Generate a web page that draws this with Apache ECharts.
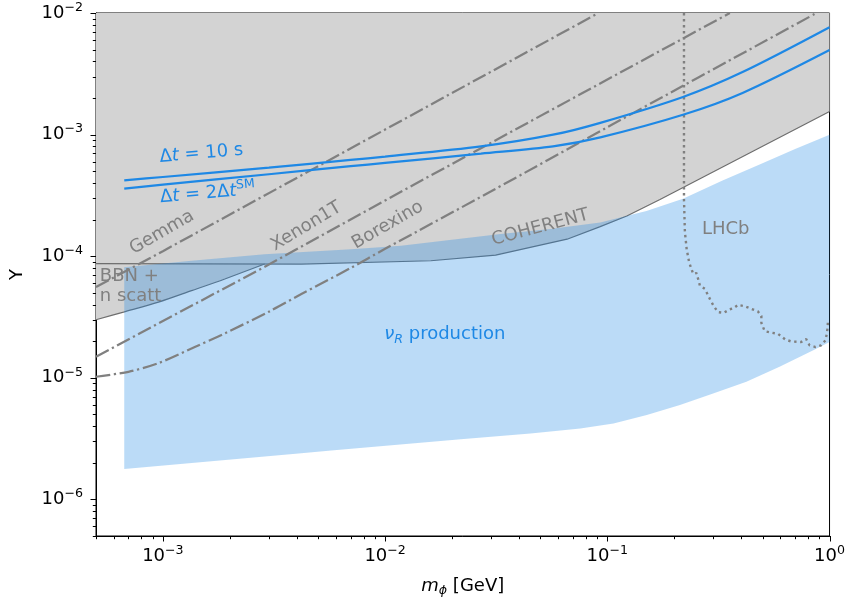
<!DOCTYPE html>
<html><head><meta charset="utf-8">
<script src="https://cdn.jsdelivr.net/npm/echarts@6/dist/echarts.min.js"></script>
<style>html,body{margin:0;padding:0;background:#fff}#c{width:848px;height:602px}</style>
</head><body><div id="c"></div>
<script>
// ---------------- data ----------------
const xRange = [5e-4, 1];
const yRange = [5e-7, 1e-2];
const xMajorTicks = [1e-3, 1e-2, 1e-1, 1];
const yMajorTicks = [1e-6, 1e-5, 1e-4, 1e-3, 1e-2];
const xMinorDecades = [1e-4, 1e-3, 1e-2, 1e-1];
const yMinorDecades = [1e-7, 1e-6, 1e-5, 1e-4, 1e-3];
const minorMultipliers = [2, 3, 4, 5, 6, 7, 8, 9];

// Δt = 10 s
const dt10 = [[6.7e-4,4.2e-4],[1e-3,4.48e-4],[3e-3,5.35e-4],[7e-3,6.2e-4],[1e-2,6.59e-4],[2.7e-2,8.0e-4],[5.7e-2,9.98e-4],[0.093,1.25e-3],[0.219,2.04e-3],[0.406,3.27e-3],[1,7.64e-3]];
// Δt = 2Δt^SM
const dt2sm = [[6.7e-4,3.6e-4],[1e-3,3.87e-4],[3e-3,4.72e-4],[7e-3,5.5e-4],[1e-2,5.85e-4],[2.7e-2,6.98e-4],[5.7e-2,8.0e-4],[0.093,9.49e-4],[0.219,1.455e-3],[0.406,2.2e-3],[1,4.96e-3]];
// dash-dot bounds
const gemma = [[5e-4,5.57e-5],[1e-3,1.1e-4],[1e-2,1.1e-3],[0.0912,1e-2]];
const xenon1t = [[5e-4,1.49e-5],[2.86e-3,8.15e-5],[1.216e-2,3.5e-4],[0.356,1e-2]];
const borexino = [[5e-4,1.02e-5],[7e-4,1.12e-5],[9.55e-4,1.32e-5],[1.4e-3,1.8e-5],[1.9e-3,2.32e-5],[3e-3,3.5e-5],[4.2e-3,4.88e-5],[7e-3,8.0e-5],[1e-2,1.15e-4],[3e-2,3.42e-4],[0.1,1.15e-3],[0.873,1e-2]];
// LHCb (dotted)
const lhcb = [[0.2213,1e-2],[0.2213,2.93e-4],[0.2234,1.58e-4],[0.2276,1.14e-4],[0.2335,8.9e-5],[0.2434,7.14e-5],[0.2521,7.27e-5],[0.2609,5.73e-5],[0.2748,5.38e-5],[0.2893,4.46e-5],[0.3015,3.87e-5],[0.3152,3.47e-5],[0.3342,3.42e-5],[0.3556,3.66e-5],[0.3707,3.74e-5],[0.3875,3.98e-5],[0.4152,3.88e-5],[0.4449,3.69e-5],[0.4764,3.51e-5],[0.4934,3.22e-5],[0.4934,2.83e-5],[0.5105,2.42e-5],[0.547,2.35e-5],[0.5856,2.30e-5],[0.634,2.06e-5],[0.6725,1.99e-5],[0.7456,1.97e-5],[0.7852,2.08e-5],[0.8125,1.85e-5],[0.8643,1.79e-5],[0.9167,1.85e-5],[0.958,2.03e-5],[0.972,2.3e-5],[0.981,2.61e-5],[0.983,2.9e-5]];
// excluded regions (lower boundaries)
const coherentEdge = [[5e-4,8.7e-5],[4.195e-3,8.62e-5],[1.605e-2,9.17e-5],[3.143e-2,1.02e-4],[6.59e-2,1.38e-4],[0.0929,1.75e-4],[0.1224,2.14e-4],[0.1726,2.93e-4],[1,1.55e-3]];
const nScattEdge = [[5e-4,3.0e-5],[6.65e-4,3.47e-5],[9.55e-4,4.19e-5],[1.347e-3,5.21e-5],[1.9e-3,6.5e-5],[2.87e-3,8.62e-5]];
// nu_R production band
const nuRTop = [[6.7e-4,8.1e-5],[1.347e-3,9.17e-5],[2.87e-3,1.04e-4],[7.03e-3,1.14e-4],[1.178e-2,1.22e-4],[3.31e-2,1.52e-4],[5.54e-2,1.67e-4],[0.0929,1.89e-4],[0.15,2.35e-4],[0.219,2.97e-4],[0.33,4.2e-4],[0.4846,5.67e-4],[0.7,7.6e-4],[1,9.98e-4]];
const nuRBottom = [[6.7e-4,1.777e-6],[4.195e-3,2.40e-6],[5.72e-3,2.53e-6],[2.19e-2,3.13e-6],[4.51e-2,3.48e-6],[7.56e-2,3.82e-6],[0.1066,4.2e-6],[0.1505,4.94e-6],[0.2122,5.97e-6],[0.2993,7.44e-6],[0.4225,9.28e-6],[0.5957,1.23e-5],[0.8406,1.68e-5],[1,1.97e-5]];

// ---------------- styling ----------------
const FONT = 'DejaVu Sans';
const BLUE = '#1E88E5';
const GREY = '#808080';
const EDGE = '#6e6e6e';
const FS = 18;
const LW = 2.25;
const DASHDOT = [14.4, 3.6, 2.25, 3.6];

const chart = echarts.init(document.getElementById('c'), null, {renderer: 'canvas'});

function polygonSeries(name, pointsFn, style, z) {
  return {
    name, type: 'custom', coordinateSystem: 'cartesian2d', z, silent: true,
    data: [[1e-3, 1e-4]], encode: {x: 0, y: 1},
    renderItem: function (params, api) {
      const pts = pointsFn().map(p => api.coord(p));
      return {type: 'polygon', shape: {points: pts}, style: style};
    }
  };
}
function lineSeries(name, data, color, width, type, z, smooth) {
  return {name, type: 'line', data, showSymbol: false, symbol: 'none', z, silent: true, smooth: smooth || false,
    lineStyle: {color, width, type, cap: 'butt'}, clip: true};
}

const expFmt = function (v) {
  const l = Math.log10(v); const e = Math.round(l);
  if (Math.abs(l - e) > 1e-6) return '';
  return '{b|10}{s|' + (e < 0 ? '\u2212' + (-e) : e) + '}';
};
const tickRich = {
  b: {fontSize: FS, fontFamily: FONT, color: '#000'},
  s: {fontSize: 12.6, fontFamily: FONT, color: '#000', padding: [0, 0, 11, 0]}
};

const option = {
  animation: false,
  backgroundColor: '#fff',
  grid: {left: 94, top: 13, right: 18, bottom: 64, show: true, borderColor: '#000', borderWidth: 1, backgroundColor: 'transparent'},
  xAxis: {
    type: 'log', logBase: 10, min: xRange[0], max: xRange[1],
    axisLine: {show: true, lineStyle: {color: '#000', width: 1}},
    axisTick: {show: false}, splitLine: {show: false}, minorTick: {show: false},
    axisLabel: {formatter: expFmt, rich: tickRich, margin: 8, showMinLabel: true, showMaxLabel: true},
    name: '{i|m}{sub|\u03d5}{n| [GeV]}', nameLocation: 'middle', nameGap: 40,
    nameTextStyle: {rich: {
      i: {fontSize: FS, fontFamily: FONT, fontStyle: 'italic', color: '#000'},
      sub: {fontSize: 12.6, fontFamily: FONT, fontStyle: 'italic', color: '#000', padding: [8, 0, 0, 0]},
      n: {fontSize: FS, fontFamily: FONT, color: '#000'}
    }}
  },
  yAxis: {
    type: 'log', logBase: 10, min: yRange[0], max: yRange[1],
    axisLine: {show: true, lineStyle: {color: '#000', width: 1}},
    axisTick: {show: false}, splitLine: {show: false}, minorTick: {show: false},
    axisLabel: {formatter: expFmt, rich: tickRich, margin: 13},
    name: 'Y', nameLocation: 'middle', nameGap: 70, nameRotate: 90,
    nameTextStyle: {fontSize: FS, fontFamily: FONT, color: '#000'}
  },
  series: [
    polygonSeries('nScattRegion', () => nScattEdge.concat([[nScattEdge[nScattEdge.length-1][0], yRange[1]], [xRange[0], yRange[1]]]), {fill: '#d3d3d3'}, 1),
    polygonSeries('coherentRegion', () => coherentEdge.concat([[xRange[1], yRange[1]], [xRange[0], yRange[1]]]), {fill: '#d3d3d3'}, 1),
    lineSeries('nScattEdge', nScattEdge, EDGE, 1.2, 'solid', 2, 0.3),
    lineSeries('coherentEdge', coherentEdge, EDGE, 1.2, 'solid', 2),
    polygonSeries('nuR', () => nuRTop.concat(nuRBottom.slice().reverse()), {fill: 'rgba(30,136,229,0.3)'}, 3),
    lineSeries('Gemma', gemma, GREY, LW, DASHDOT, 4),
    lineSeries('Xenon1T', xenon1t, GREY, LW, DASHDOT, 4),
    lineSeries('Borexino', borexino, GREY, LW, DASHDOT, 4, 0.3),
    lineSeries('LHCb', lhcb, GREY, 2.4, [2.4, 3.6], 4),
    lineSeries('dt10', dt10, BLUE, LW, 'solid', 5, 0.3),
    lineSeries('dt2sm', dt2sm, BLUE, LW, 'solid', 5, 0.3),
    {
      name: 'ticks', type: 'custom', coordinateSystem: 'cartesian2d', z: 6, silent: true, clip: false,
      data: [[1e-3, 1e-4]], encode: {x: 0, y: 1},
      renderItem: function (params, api) {
        const children = [];
        const add = (x1, y1, x2, y2) => children.push({type: 'line', shape: {x1, y1, x2, y2}, style: {stroke: '#000', lineWidth: 1}});
        const inR = (v, r) => v >= r[0] * 0.9999 && v <= r[1] * 1.0001;
        xMajorTicks.forEach(v => { const p = api.coord([v, yRange[0]]); add(Math.round(p[0]) + 0.5, p[1], Math.round(p[0]) + 0.5, p[1] + 5.5); });
        yMajorTicks.forEach(v => { const p = api.coord([xRange[0], v]); add(p[0], Math.round(p[1]) + 0.5, p[0] - 5.5, Math.round(p[1]) + 0.5); });
        xMinorDecades.forEach(d => minorMultipliers.forEach(m => { const v = d * m; if (!inR(v, xRange)) return; const p = api.coord([v, yRange[0]]); add(Math.round(p[0]) + 0.5, p[1], Math.round(p[0]) + 0.5, p[1] + 3.2); }));
        yMinorDecades.forEach(d => minorMultipliers.forEach(m => { const v = d * m; if (!inR(v, yRange)) return; const p = api.coord([xRange[0], v]); add(p[0], Math.round(p[1]) + 0.5, p[0] - 3.2, Math.round(p[1]) + 0.5); }));
        return {type: 'group', children};
      }
    }
  ]
};
chart.setOption(option);

// ---------------- annotations (anchored in data coordinates) ----------------
const R = (extra) => Object.assign({fontFamily: FONT, fontSize: FS}, extra);
const annotations = [
  {at: [1.49e-3, 6.98e-4], rot: 5, color: BLUE, text: '{n|\u0394}{i|t}{n| = 10 s}'},
  {at: [1.59e-3, 3.28e-4], rot: 5, color: BLUE, text: '{n|\u0394}{i|t}{n| = 2\u0394}{i|t}{sup|SM}'},
  {at: [9.9e-4, 1.57e-4], rot: 30, color: GREY, text: '{n|Gemma}'},
  {at: [4.42e-3, 1.76e-4], rot: 31, color: GREY, text: '{n|Xenon1T}'},
  {at: [1.027e-2, 1.80e-4], rot: 30, color: GREY, text: '{n|Borexino}'},
  {at: [5.0e-2, 1.72e-4], rot: 15, color: GREY, text: '{n|COHERENT}'},
  {at: [0.341, 1.67e-4], rot: 0, color: GREY, text: '{n|LHCb}'},
  {at: [1.856e-2, 2.26e-5], rot: 0, color: BLUE, text: '{i|\u03bd}{sub|R}{n| production}'}
];
const graphics = annotations.map(a => {
  const p = chart.convertToPixel({gridIndex: 0}, a.at);
  return {
    type: 'text', x: p[0], y: p[1], rotation: a.rot * Math.PI / 180, z: 100, silent: true,
    style: {
      text: a.text, align: 'center', verticalAlign: 'middle', fill: a.color,
      rich: {
        n: R({fill: a.color}),
        i: R({fill: a.color, fontStyle: 'italic'}),
        sup: R({fill: a.color, fontSize: 12.6, padding: [0, 0, 11, 0]}),
        sub: R({fill: a.color, fontSize: 12.6, fontStyle: 'italic', padding: [9, 0, 0, 0]})
      }
    }
  };
});
const bbnAt = chart.convertToPixel({gridIndex: 0}, [5.2e-4, 5.69e-5]);
graphics.push({
  type: 'text', x: bbnAt[0], y: bbnAt[1], z: 100, silent: true,
  style: {text: 'BBN +\nn scatt', align: 'left', verticalAlign: 'middle', fill: GREY, fontFamily: FONT, fontSize: FS, lineHeight: 20}
});
chart.setOption({graphic: graphics});
</script>
</body></html>
